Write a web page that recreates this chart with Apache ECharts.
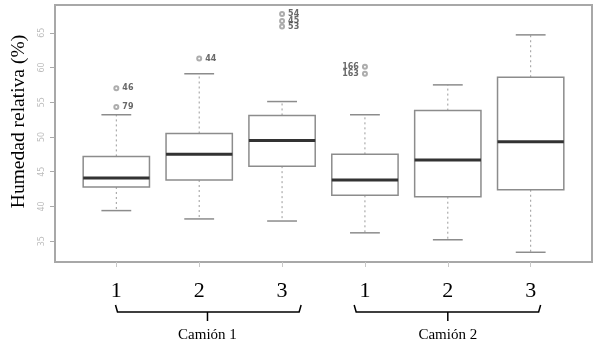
<!DOCTYPE html>
<html><head><meta charset="utf-8">
<script src="https://cdn.jsdelivr.net/npm/echarts@6/dist/echarts.min.js"></script>
<style>html,body{margin:0;padding:0;background:#fff}#c{width:599px;height:347px}</style>
</head><body><div id="c"></div>
<script>
// positions of the six boxes on the x scale
const positions = [1, 2, 3, 4, 5, 6];
const tickLabels = ['1', '2', '3', '1', '2', '3'];
const mins    = [39.4, 38.2, 37.9, 36.2, 35.2, 33.4];
const q1s     = [42.8, 43.8, 45.8, 41.6, 41.4, 42.4];
const medians = [44.1, 47.5, 49.5, 43.8, 46.7, 49.3];
const q3s     = [47.2, 50.5, 53.1, 47.5, 53.8, 58.6];
const maxs    = [53.2, 59.1, 55.1, 53.2, 57.5, 64.7];
// outliers
const outX     = [1, 1, 2, 3, 3, 3, 4, 4];
const outY     = [54.3, 57.0, 61.3, 67.7, 66.7, 65.9, 60.1, 59.1];
const outLabel = ['79', '46', '44', '54', '45', '53', '166', '163'];
const outSide  = ['right', 'right', 'right', 'right', 'right', 'right', 'left', 'left'];
// y ticks
const yTicks = [35, 40, 45, 50, 55, 60, 65];
// groups (bracket start, end, stem on x scale)
const groupNames = ['Camión 1', 'Camión 2'];
const groupStart = [0.99, 3.87];
const groupEnd   = [3.23, 6.12];
const groupMid   = [2.1, 5.0];

const boxData = positions.map((p, i) => [p, mins[i], q1s[i], medians[i], q3s[i], maxs[i]]);
const outData = outX.map((x, i) => ({
  value: [x, outY[i]],
  label: { show: true, formatter: outLabel[i], position: outSide[i] }
}));
const groupData = groupNames.map((n, i) => [groupStart[i], groupEnd[i], groupMid[i], n]);

const chart = echarts.init(document.getElementById('c'));
chart.setOption({
  animation: false,
  grid: { left: 55, right: 7, top: 5, bottom: 85, show: true, borderColor: '#a8a8a8', borderWidth: 2, backgroundColor: 'transparent' },
  xAxis: {
    type: 'value', min: 0.26, max: 6.74,
    axisLine: { show: false },
    splitLine: { show: false },
    axisTick: { show: true, length: 5, lineStyle: { color: '#c8c8c8' }, customValues: positions },
    axisLabel: { customValues: positions, margin: 18, fontFamily: 'Liberation Serif', fontSize: 22, color: '#000',
      formatter: v => tickLabels[Math.round(v) - 1] }
  },
  yAxis: {
    type: 'value', min: 32, max: 69,
    name: 'Humedad relativa (%)', nameLocation: 'middle', nameGap: 26,
    nameTextStyle: { fontFamily: 'Liberation Serif', fontSize: 19.5, color: '#000', padding: [0, 0, 0, 24] },
    axisLine: { show: false },
    splitLine: { show: false },
    axisTick: { show: true, length: 5, lineStyle: { color: '#aaa' }, customValues: yTicks },
    axisLabel: { customValues: yTicks, rotate: 90, margin: 9, fontSize: 8, color: '#bdbdbd', fontFamily: 'DejaVu Sans' }
  },
  series: [
    {
      type: 'custom',
      data: boxData,
      renderItem: function (params, api) {
        const x = api.value(0);
        const mn = api.coord([x, api.value(1)]);
        const q1 = api.coord([x, api.value(2)]);
        const md = api.coord([x, api.value(3)]);
        const q3 = api.coord([x, api.value(4)]);
        const mx = api.coord([x, api.value(5)]);
        const bw = api.size([0.8, 0])[0];
        const cw = api.size([0.36, 0])[0];
        const cx = md[0];
        const dash = { stroke: '#9a9a9a', lineWidth: 1, lineDash: [2, 3] };
        const solid = { stroke: '#8c8c8c', lineWidth: 1.5 };
        return {
          type: 'group',
          children: [
            { type: 'line', shape: { x1: cx, y1: q3[1], x2: cx, y2: mx[1] }, style: dash },
            { type: 'line', shape: { x1: cx, y1: q1[1], x2: cx, y2: mn[1] }, style: dash },
            { type: 'line', shape: { x1: cx - cw / 2, y1: mx[1], x2: cx + cw / 2, y2: mx[1] }, style: solid },
            { type: 'line', shape: { x1: cx - cw / 2, y1: mn[1], x2: cx + cw / 2, y2: mn[1] }, style: solid },
            { type: 'rect', shape: { x: cx - bw / 2, y: q3[1], width: bw, height: q1[1] - q3[1] },
              style: { fill: 'rgba(0,0,0,0)', stroke: '#8c8c8c', lineWidth: 1.5 } },
            { type: 'line', shape: { x1: cx - bw / 2, y1: md[1], x2: cx + bw / 2, y2: md[1] }, style: { stroke: '#333', lineWidth: 3 } }
          ]
        };
      }
    },
    {
      type: 'scatter',
      data: outData,
      symbol: 'emptyCircle',
      symbolSize: 4,
      itemStyle: { color: '#999', borderColor: '#999', borderWidth: 1 },
      label: { fontSize: 8, fontWeight: 'bold', color: '#444', distance: 3, fontFamily: 'DejaVu Sans' }
    },
    {
      type: 'custom',
      data: groupData,
      clip: false,
      renderItem: function (params, api) {
        const base = api.coord([api.value(0), 32]);
        const endp = api.coord([api.value(1), 32]);
        const mid = api.coord([api.value(2), 32]);
        const y = base[1] + 50;
        const st = { stroke: '#000', lineWidth: 1.5, fill: null };
        return {
          type: 'group',
          children: [
            { type: 'polyline', shape: { points: [[base[0], y - 7], [base[0] + 2, y], [endp[0] - 2, y], [endp[0], y - 7]] }, style: st },
            { type: 'line', shape: { x1: mid[0], y1: y, x2: mid[0], y2: y + 9 }, style: st },
            { type: 'text', style: { text: api.value(3), x: mid[0], y: y + 23, align: 'center', verticalAlign: 'middle',
              font: '15px "Liberation Serif"', fill: '#000' } }
          ]
        };
      }
    }
  ]
});
</script>
</body></html>
